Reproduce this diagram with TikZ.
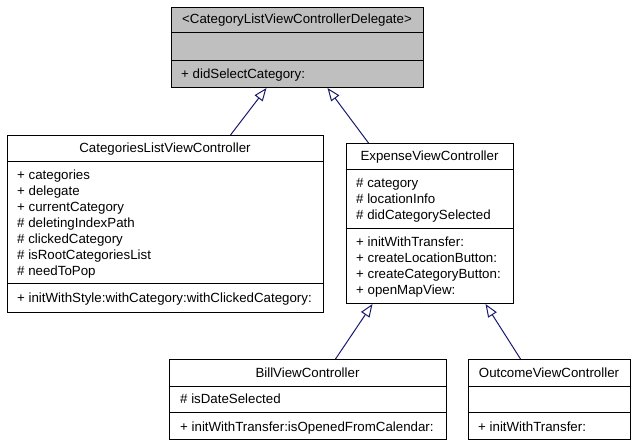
\documentclass[tikz,border=0pt]{standalone}
\usepackage{fontspec}
\setmainfont{Liberation Sans}
\usetikzlibrary{arrows.meta}
\definecolor{edgeblue}{RGB}{25,25,112}
\definecolor{ifacegray}{RGB}{191,191,191}
\newcommand{\umlfont}{\fontsize{13.3bp}{16bp}\selectfont}
\tikzset{
  clsbox/.style={draw=black, line width=1bp, inner sep=0, anchor=north west, fill=white},
  mem/.style={anchor=base west, inner sep=0, font=\umlfont},
  ttl/.style={anchor=base, inner sep=0, font=\umlfont},
  divider/.style={draw=black, line width=1bp},
  inh/.style={draw=edgeblue, line width=1bp, -{Triangle[open, length=13bp, width=10bp, fill=white]}},
}
\begin{document}
\begin{tikzpicture}[x=1bp,y=-1bp]
\useasboundingbox (0,0) rectangle (636,447);

% Delegate interface
\node[clsbox, fill=ifacegray, minimum width=252bp, minimum height=80bp] (delegate) at (171,7) {};
\draw[divider] (171,33) -- (423,33);
\draw[divider] (171,61) -- (423,61);
\node[ttl] (delegateT) at (297,24) {<CategoryListViewControllerDelegate>};
\node[mem] (delegateM1) at (181,79) {+ didSelectCategory:};

% CategoriesListViewController
\node[clsbox, minimum width=316bp, minimum height=177bp] (catlist) at (7,135) {};
\draw[divider] (7,162) -- (323,162);
\draw[divider] (7,284) -- (323,284);
\node[ttl] (catlistT) at (165,153) {CategoriesListViewController};
\node[mem] (catlistA1) at (17,179.5) {+ categories};
\node[mem] (catlistA2) at (17,195.5) {+ delegate};
\node[mem] (catlistA3) at (17,211.5) {+ currentCategory};
\node[mem] (catlistA4) at (17,227.5) {\# deletingIndexPath};
\node[mem] (catlistA5) at (17,243.5) {\# clickedCategory};
\node[mem] (catlistA6) at (17,259.5) {\# isRootCategoriesList};
\node[mem] (catlistA7) at (17,275.5) {\# needToPop};
\node[mem] (catlistM1) at (17,302.5) {+ initWithStyle:withCategory:withClickedCategory:};

% ExpenseViewController
\node[clsbox, minimum width=167bp, minimum height=160bp] (expense) at (346,143) {};
\draw[divider] (346,170) -- (513,170);
\draw[divider] (346,229) -- (513,229);
\node[ttl] (expenseT) at (429.5,161) {ExpenseViewController};
\node[mem] (expenseA1) at (356,188) {\# category};
\node[mem] (expenseA2) at (356,204) {\# locationInfo};
\node[mem] (expenseA3) at (356,220) {\# didCategorySelected};
\node[mem] (expenseM1) at (356,247) {+ initWithTransfer:};
\node[mem] (expenseM2) at (356,263) {+ createLocationButton:};
\node[mem] (expenseM3) at (356,279) {+ createCategoryButton:};
\node[mem] (expenseM4) at (356,295) {+ openMapView:};

% BillViewController
\node[clsbox, minimum width=277bp, minimum height=80bp] (bill) at (169,359) {};
\draw[divider] (169,386) -- (446,386);
\draw[divider] (169,412) -- (446,412);
\node[ttl] (billT) at (307.5,377) {BillViewController};
\node[mem] (billA1) at (180,403.5) {\# isDateSelected};
\node[mem] (billM1) at (180,431) {+ initWithTransfer:isOpenedFromCalendar:};

% OutcomeViewController
\node[clsbox, minimum width=162bp, minimum height=80bp] (outcome) at (468,359) {};
\draw[divider] (468,386) -- (630,386);
\draw[divider] (468,412) -- (630,412);
\node[ttl] (outcomeT) at (549,377) {OutcomeViewController};
\node[mem] (outcomeM1) at (478,431) {+ initWithTransfer:};

% Inheritance
\draw[inh] ([xshift=65bp]catlist.north) -- ([xshift=-31bp]delegate.south);
\draw[inh] ([xshift=-61.5bp]expense.north) -- ([xshift=30bp]delegate.south);
\draw[inh] ([xshift=27.5bp]bill.north) -- ([xshift=-57.5bp]expense.south);
\draw[inh] ([xshift=-29bp]outcome.north) -- ([xshift=55.5bp]expense.south);
\end{tikzpicture}
\end{document}
